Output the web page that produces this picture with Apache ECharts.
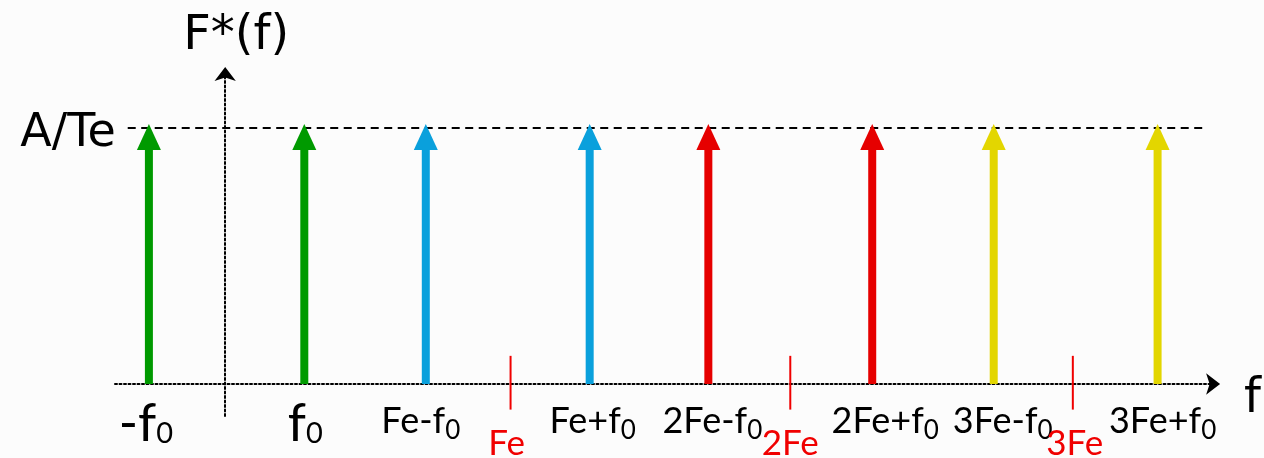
<!DOCTYPE html>
<html><head><meta charset="utf-8">
<script src="https://cdn.jsdelivr.net/npm/echarts@6/dist/echarts.min.js"></script>
<style>html,body{margin:0;padding:0;background:#fcfcfc;}#chart{width:1264px;height:458px;}</style>
</head><body><div id="chart"></div>
<script>
// ---- data (frequencies in units of Fe, amplitudes in units of A/Te) ----
const arrowLabels = ['-f', 'f', 'Fe-f', 'Fe+f', '2Fe-f', '2Fe+f', '3Fe-f', '3Fe+f']; // each followed by subscript "0"
const arrowSub = '0';
const arrowFreqs = [-0.27, 0.28, 0.71, 1.29, 1.71, 2.29, 2.72, 3.30];
const arrowAmps = [1, 1, 1, 1, 1, 1, 1, 1];
const arrowGroup = [0, 0, 1, 1, 2, 2, 3, 3];
const sampleLabels = ['Fe', '2Fe', '3Fe'];
const sampleFreqs = [1.01, 2.00, 3.00];
const sampleMarkTop = 0.11;
const sampleMarkBottom = -0.10;
const levelLabel = 'A/Te';
const levelValue = 1;
const levelStart = -0.345;
const levelEnd = 3.46;
const xName = 'f';
const yName = 'F*(f)';

// ---- styles ----
const groupColors = ['#009a00', '#0aa0dc', '#e60000', '#e3d600'];
const markRed = '#f00000';
const labelFont = 'Lato';
const arrowLabelNudge = [-3, 1, -5, 3, 4, 13, 9, 5];   // px, horizontal label placement
const sampleLabelNudge = [-4, 0, 2];
const richSmall = {
  m: {fontSize: 36, lineHeight: 44, fontFamily: labelFont, fill: '#000'},
  s: {fontSize: 26, height: 25, verticalAlign: 'bottom', fontFamily: labelFont, fill: '#000'}
};
const richBig = {
  m: {fontSize: 52, lineHeight: 60, fontFamily: labelFont, fill: '#000'},
  s: {fontSize: 29, height: 40, verticalAlign: 'bottom', fontFamily: labelFont, fill: '#000'}
};

function renderArrow(params, api) {
  const i = api.value(2);
  const base = api.coord([api.value(0), 0]);
  const tip = api.coord([api.value(0), api.value(1)]);
  const color = groupColors[arrowGroup[i]];
  const tipY = tip[1] - 4, headH = 26, headW = 24, barW = 8;
  const big = arrowLabels[i].length <= 2;
  return {type: 'group', children: [
    {type: 'rect', shape: {x: base[0] - barW / 2, y: tipY + headH - 1, width: barW, height: base[1] - (tipY + headH - 1)}, style: {fill: color}},
    {type: 'polygon', shape: {points: [[base[0], tipY], [base[0] - headW / 2, tipY + headH], [base[0] + headW / 2, tipY + headH]]}, style: {fill: color}},
    {type: 'text', x: base[0] + arrowLabelNudge[i], y: base[1] + (big ? 10 : 15), style: {
      text: '{m|' + arrowLabels[i] + '}{s|' + arrowSub + '}', rich: big ? richBig : richSmall,
      align: 'center', verticalAlign: 'top'}}
  ]};
}

function renderSample(params, api) {
  const i = api.value(1);
  const top = api.coord([api.value(0), sampleMarkTop]);
  const bot = api.coord([api.value(0), sampleMarkBottom]);
  const zero = api.coord([api.value(0), 0]);
  return {type: 'group', children: [
    {type: 'line', shape: {x1: top[0], y1: top[1], x2: bot[0], y2: bot[1]}, style: {stroke: markRed, lineWidth: 2}},
    {type: 'text', x: zero[0] + sampleLabelNudge[i], y: zero[1] + 60, style: {text: sampleLabels[i], fill: markRed,
      fontSize: 35, fontFamily: labelFont, align: 'center', verticalAlign: 'middle'}}
  ]};
}

function renderLevel(params, api) {
  const a = api.coord([api.value(0), api.value(2)]);
  const b = api.coord([api.value(1), api.value(2)]);
  return {type: 'group', children: [
    {type: 'line', shape: {x1: a[0], y1: a[1], x2: b[0], y2: b[1]}, style: {stroke: '#000', lineWidth: 2, lineDash: [8, 5.5]}},
    {type: 'text', x: a[0] - 12, y: a[1] + 6, style: {text: levelLabel, fill: '#000',
      fontSize: 46, fontFamily: 'DejaVu Sans', align: 'right', verticalAlign: 'middle'}}
  ]};
}

const chart = echarts.init(document.getElementById('chart'), null, {renderer: 'canvas'});
chart.setOption({
  animation: false,
  backgroundColor: '#fcfcfc',
  grid: {left: 115, right: 36, top: 73, bottom: 42},
  xAxis: {
    type: 'value', min: -0.39, max: 3.50,
    axisLine: {show: true, onZero: true, symbol: ['none', 'arrow'], symbolSize: [16, 14], symbolOffset: [0, 6],
      lineStyle: {color: '#000', width: 2, type: [2, 2.5]}},
    axisTick: {show: false}, axisLabel: {show: false}, splitLine: {show: false},
    name: xName, nameLocation: 'end', nameGap: 30,
    nameTextStyle: {fontSize: 48, fontFamily: 'DejaVu Sans', color: '#000', verticalAlign: 'top', lineHeight: 32}
  },
  yAxis: {
    type: 'value', min: -0.125, max: 1.215,
    axisLine: {show: true, onZero: true, symbol: ['none', 'arrow'], symbolSize: [16, 14], symbolOffset: [0, 6],
      lineStyle: {color: '#000', width: 2, type: [2, 2.5]}},
    axisTick: {show: false}, axisLabel: {show: false}, splitLine: {show: false},
    name: yName, nameLocation: 'end', nameGap: 12,
    nameTextStyle: {fontSize: 48, fontFamily: 'DejaVu Sans', color: '#000', padding: [0, 0, 0, 22]}
  },
  series: [
    {type: 'custom', renderItem: renderLevel, data: [[levelStart, levelEnd, levelValue]], silent: true},
    {type: 'custom', renderItem: renderArrow, data: arrowFreqs.map((f, i) => [f, arrowAmps[i], i]), silent: true},
    {type: 'custom', renderItem: renderSample, data: sampleFreqs.map((f, i) => [f, i]), silent: true}
  ]
});
</script></body></html>
